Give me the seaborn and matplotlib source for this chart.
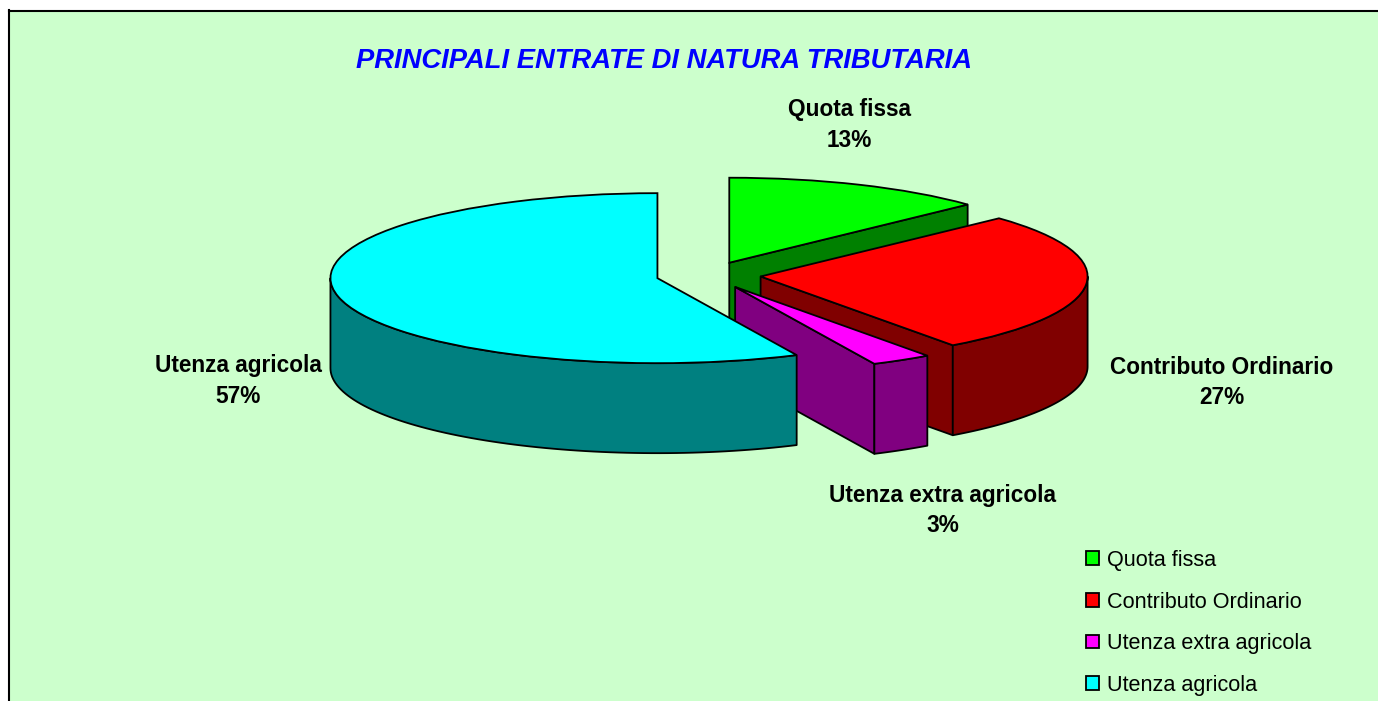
import numpy as np
import seaborn as sns
import matplotlib.pyplot as plt
from matplotlib.patches import Polygon

categories = ["Quota fissa", "Contributo Ordinario", "Utenza extra agricola", "Utenza agricola"]
values = [13, 27, 3, 57]
top_colors = ["#00FF00", "#FF0000", "#FF00FF", "#00FFFF"]
side_colors = ["#008000", "#800000", "#800080", "#008080"]

W, H = 1378, 701
BG = "#CCFFCC"
FONT = "Liberation Sans"

sns.set_theme(style="white", font=FONT)
plt.rcParams["font.family"] = [FONT, "DejaVu Sans"]

fig = plt.figure(figsize=(W / 100, H / 100), dpi=100, facecolor="white")
left, top = 8.5, 10.5
ax = fig.add_axes([left / W, 0, 1 - left / W, 1 - top / H])

wedges, _ = ax.pie(
    values,
    startangle=90,
    counterclock=False,
    explode=[0.16] * len(values),
    colors=top_colors,
    wedgeprops=dict(edgecolor="black", linewidth=1.3),
)

# squash the pie: 327 px per unit across, 85 px per unit down
ax.set_aspect("auto")
rx, ry = 327, 85
cx, cy = 708.5, 275.2
ax.set_xlim((left - cx) / rx, (W - cx) / rx)
ax.set_ylim((cy - H) / ry, (cy - top) / ry)
depth = 90 / ry


def wall(xs, ys, color, z):
    pts = list(zip(xs, ys)) + list(zip(xs[::-1], [y - depth for y in ys[::-1]]))
    ax.add_patch(Polygon(pts, closed=True, facecolor=color, edgecolor="black",
                         linewidth=1.3, joinstyle="round", zorder=z))


for i, w in enumerate(wedges):
    x0, y0 = w.center
    t1, t2 = w.theta1, w.theta2
    z = 2 + 2 * i
    # radial cut faces, only when they look towards the viewer
    if np.cos(np.radians(t1)) > 1e-6:
        a = np.radians(t1)
        wall([x0, x0 + np.cos(a)], [y0, y0 + np.sin(a)], side_colors[i], z)
    if np.cos(np.radians(t2)) < -1e-6:
        a = np.radians(t2)
        wall([x0, x0 + np.cos(a)], [y0, y0 + np.sin(a)], side_colors[i], z)
    # front part of the rim
    lo, hi = max(t1, -180), min(t2, 0)
    if hi > lo:
        a = np.radians(np.linspace(lo, hi, 80))
        wall(list(x0 + np.cos(a)), list(y0 + np.sin(a)), side_colors[i], z + 0.5)
    w.set_zorder(z + 1)

ax.set_frame_on(True)
ax.set_facecolor(BG)
for name, spine in ax.spines.items():
    spine.set_visible(name in ("top", "left"))
    spine.set_color("black")
    spine.set_linewidth(1.5)

fig.text(664.5 / W, 1 - 61 / H, "PRINCIPALI ENTRATE DI NATURA TRIBUTARIA", color="#0000FF",
         fontsize=19.7, fontweight="bold", fontstyle="italic", ha="center", va="center")

label_pos = [(849, 125), (1222, 382.5), (943, 510.5), (238, 381)]
for name, val, (lx, ly) in zip(categories, values, label_pos):
    fig.text(lx / W, 1 - ly / H, f"{name}\n{val}%", color="black", fontsize=16.3,
             fontweight="bold", ha="center", va="center", linespacing=1.42)

fig.legend(
    wedges, categories,
    loc="upper left",
    bbox_to_anchor=(1085.5 / W, 1 - 550 / H),
    frameon=False,
    fontsize=15.6,
    labelcolor="black",
    borderpad=0,
    borderaxespad=0,
    labelspacing=0.95,
    handlelength=0.6,
    handleheight=0.6,
    handletextpad=0.4,
)

fig.savefig("out.png", dpi=100, facecolor="white")
